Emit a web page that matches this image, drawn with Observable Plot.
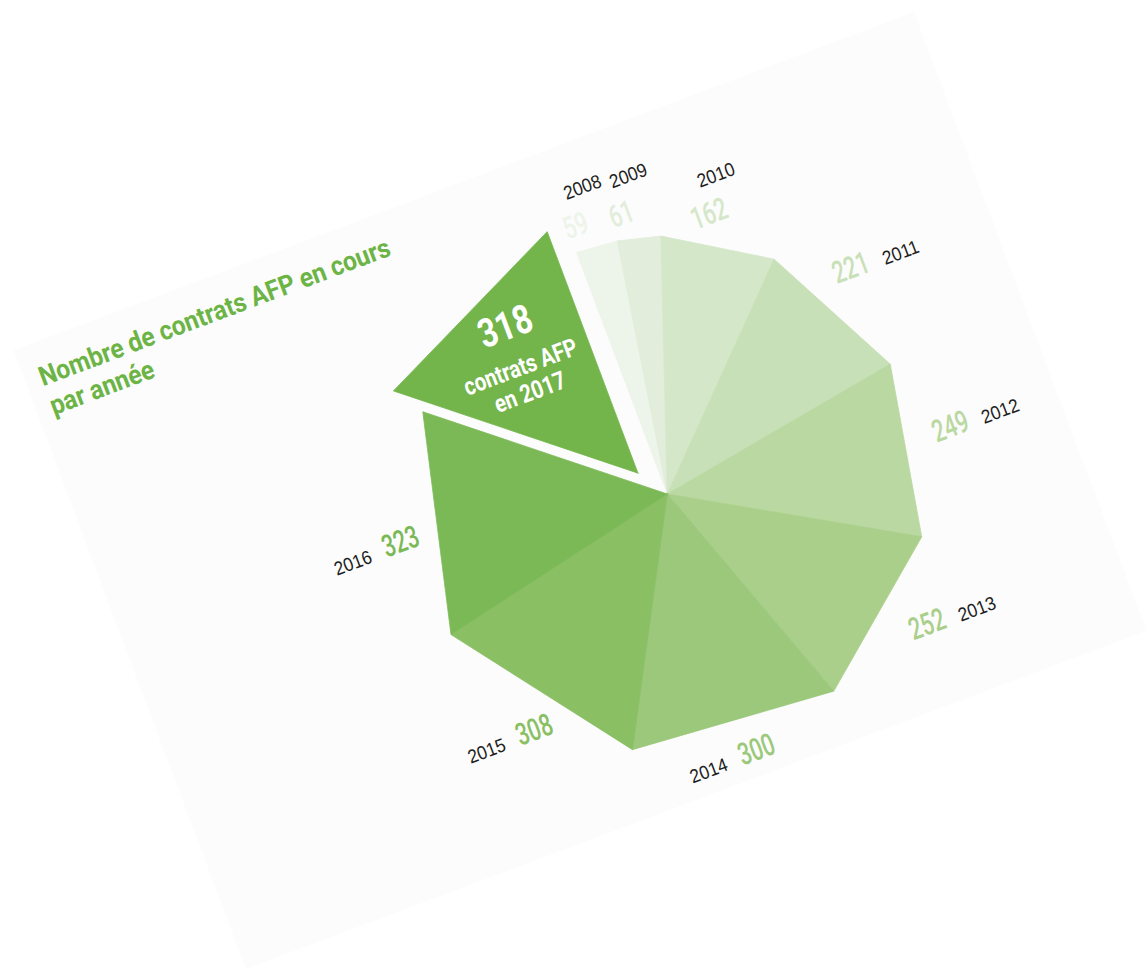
<!DOCTYPE html>
<html><head><meta charset="utf-8">
<script src="https://cdn.jsdelivr.net/npm/d3@7"></script>
<script src="https://cdn.jsdelivr.net/npm/@observablehq/plot@0.6"></script>
<style>
html,body{margin:0;padding:0;background:#fff;overflow:hidden;width:1148px;height:972px;}
#card{position:absolute;left:99px;top:159.5px;width:962px;height:661px;background:#fcfcfc;transform:rotate(-20.6deg);}
#chart{position:absolute;left:0;top:0;}
#title{position:absolute;left:15px;top:20px;font-family:Roboto,"Liberation Sans",sans-serif;font-weight:700;font-size:27px;line-height:31px;color:#6db446;white-space:nowrap;}
#title span{display:inline-block;transform-origin:0 50%;}
</style></head>
<body>
<div id="card"><div id="chart"></div><div id="title"></div></div>
<script>
// ---- data ----
const years  = [2008, 2009, 2010, 2011, 2012, 2013, 2014, 2015, 2016, 2017];
const counts = [59, 61, 162, 221, 249, 252, 300, 308, 323, 318];
const shades = ["#edf4ea", "#e2eddb", "#d4e7c8", "#c8e0b7", "#bad8a1", "#aacf8b", "#9bc87b", "#8abf64", "#7bb956", "#73b54b"];
const titleLines = ["Nombre de contrats AFP en cours", "par année"];
const highlightYear = 2017;
const highlightCaption = "contrats AFP";

// ---- layout ----
const W = 962, H = 661, CX = 561, CY = 364, R = 258;
const EXPLODE = 36, EXPLODE_TILT = -8.6 * Math.PI / 180;
const LABEL_SHIFT = -3 * Math.PI / 180;
const LABEL_R = {top: 283, right: 291, left: 271};
const YEAR_DX = {top: 20, right: 52, left: -52};
const YEAR_DY = {top: -34, right: 3, left: 3};
const FONT = "Roboto, 'Liberation Sans', sans-serif";
const YFONT = "'Liberation Sans', Arial, sans-serif";

const total = d3.sum(counts);
const pt = (a, r) => [r * Math.sin(a), -r * Math.cos(a)];
let acc = 0;
const slices = years.map((year, i) => {
  const a0 = acc / total * 2 * Math.PI; acc += counts[i];
  const a1 = acc / total * 2 * Math.PI;
  return {year, count: counts[i], color: shades[i], a0, a1, mid: (a0 + a1) / 2};
});

const polys = [];
for (const s of slices) {
  const [ox, oy] = s.year === highlightYear ? pt(s.mid + EXPLODE_TILT, EXPLODE) : [0, 0];
  const [x0, y0] = pt(s.a0, R), [x1, y1] = pt(s.a1, R);
  s.verts = [[ox, oy], [x0 + ox, y0 + oy], [x1 + ox, y1 + oy]];
  [...s.verts, s.verts[0]].forEach(([x, y]) => polys.push({year: s.year, color: s.color, x, y}));
}

const outer = slices.filter(s => s.year !== highlightYear).map(s => {
  const deg = s.mid * 180 / Math.PI;
  const side = deg < 45 ? "top" : deg < 180 ? "right" : "left";
  const [x, y] = pt(s.mid + LABEL_SHIFT, LABEL_R[side]);
  return {x, y, yx: x + YEAR_DX[side], yy: y + YEAR_DY[side], value: String(s.count), year: String(s.year), color: s.color};
});

const hi = slices.find(s => s.year === highlightYear);
const cx = d3.mean(hi.verts, v => v[0]) - 6, cy = d3.mean(hi.verts, v => v[1]);
const bigLine = [{x: cx, y: cy - 43, text: String(hi.count)}];
const smallLines = [
  {x: cx, y: cy, text: highlightCaption},
  {x: cx, y: cy + 27, text: `en ${hi.year}`}
];

const chart = Plot.plot({
  width: W, height: H, margin: 0,
  x: {domain: [-CX, W - CX], range: [0, W], axis: null},
  y: {domain: [-CY, H - CY], range: [0, H], axis: null},
  color: {type: "identity"},
  style: {background: "transparent", fontFamily: FONT, overflow: "visible"},
  marks: [
    Plot.line(polys, {x: "x", y: "y", z: "year", fill: d => d.color, stroke: d => d.color, strokeWidth: 0.7, strokeLinejoin: "round"}),
    Plot.text(outer, {x: "x", y: "y", text: "value", fill: d => d.color, fontSize: 31, fontWeight: 500, fontFamily: FONT}),
    Plot.text(outer, {x: "yx", y: "yy", text: "year", fill: "#1e1e1e", fontSize: 19, fontFamily: YFONT}),
    Plot.text(bigLine, {x: "x", y: "y", text: "text", fill: "white", fontSize: 40, fontWeight: 700, fontFamily: FONT}),
    Plot.text(smallLines, {x: "x", y: "y", text: "text", fill: "white", fontSize: 25, fontWeight: 700, fontFamily: FONT})
  ]
});
document.getElementById("chart").append(chart);

// condensed type: narrow the glyphs of the display texts
const condense = {31: 0.7, 19: 0.92, 40: 0.8, 25: 0.82};
chart.querySelectorAll("text").forEach(t => {
  const fs = Math.round(parseFloat(getComputedStyle(t).fontSize));
  const k = condense[fs];
  if (k) {
    const w = t.getComputedTextLength();
    t.setAttribute("textLength", (w * k).toFixed(2));
    t.setAttribute("lengthAdjust", "spacingAndGlyphs");
  }
});

// title
const title = document.getElementById("title");
const spans = titleLines.map((line, i) => {
  const s = document.createElement("span");
  s.textContent = line;
  title.append(s);
  if (i < titleLines.length - 1) title.append(document.createElement("br"));
  return s;
});
const f = 373 / spans[0].offsetWidth;
spans.forEach(s => s.style.transform = `scaleX(${f})`);
</script>
</body></html>
